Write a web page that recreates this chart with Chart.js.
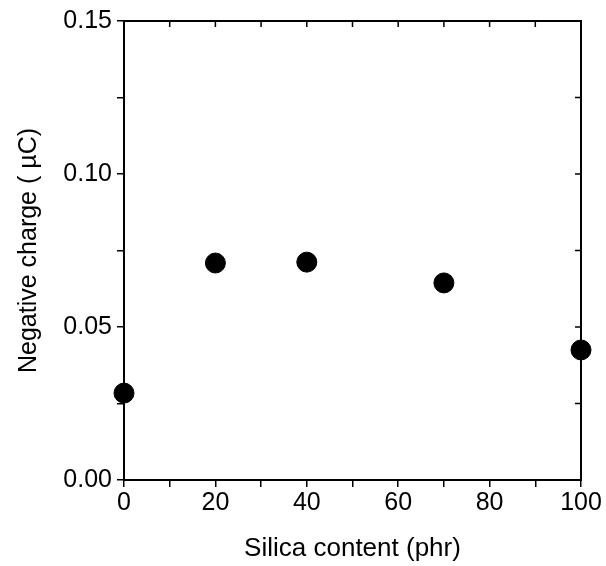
<!DOCTYPE html>
<html>
<head>
<meta charset="utf-8">
<script src="https://cdn.jsdelivr.net/npm/chart.js@4"></script>
<style>
  html, body { margin: 0; padding: 0; background: #fff; }
  #wrap { width: 606px; height: 566px; }
</style>
</head>
<body>
<div id="wrap"><canvas id="chart"></canvas></div>
<script>
// --- data ---
const silica = [0, 20, 40, 70, 100];            // phr
const charge = [0.0284, 0.0709, 0.0712, 0.0644, 0.0425]; // µC

const xTitle = "Silica content (phr)";
const yTitle = "Negative charge ( \u00B5C)";

const FONT = "'Liberation Sans', Arial, sans-serif";

// inward ticks on the top and right sides (like the original frame)
const mirrorTicks = {
    id: "mirrorTicks",
    afterDraw(chart) {
        const { ctx, chartArea: a, scales } = chart;
        ctx.save();
        ctx.strokeStyle = "#000";
        ctx.lineWidth = 1.5;
        ctx.beginPath();
        scales.x.ticks.forEach(t => {
            const px = scales.x.getPixelForValue(t.value);
            ctx.moveTo(px, a.top);
            ctx.lineTo(px, a.top + 6);
        });
        scales.y.ticks.forEach(t => {
            const py = scales.y.getPixelForValue(t.value);
            ctx.moveTo(a.right, py);
            ctx.lineTo(a.right - 6, py);
        });
        ctx.stroke();
        // frame
        ctx.lineWidth = 2;
        ctx.strokeRect(a.left, a.top, a.right - a.left, a.bottom - a.top);
        ctx.restore();
    }
};

new Chart(document.getElementById("chart"), {
    type: "scatter",
    data: {
        datasets: [{
            data: silica.map((x, i) => ({ x: x, y: charge[i] })),
            backgroundColor: "#000",
            borderColor: "#000",
            pointRadius: 10,
            pointHoverRadius: 10,
            clip: false
        }]
    },
    options: {
        responsive: true,
        maintainAspectRatio: false,
        animation: false,
        layout: { padding: { top: 21, right: 25, left: 0, bottom: 0 } },
        plugins: { legend: { display: false }, tooltip: { enabled: false } },
        scales: {
            x: {
                type: "linear",
                min: 0, max: 100,
                afterFit: s => { s.height = 86; },
                ticks: {
                    stepSize: 10,
                    autoSkip: false,
                    maxRotation: 0,
                    color: "#000",
                    padding: 1,
                    font: { family: FONT, size: 25 },
                    callback: v => (v % 20 === 0 ? v : "")
                },
                grid: { drawOnChartArea: false, drawTicks: true, tickLength: 7, color: "#000", lineWidth: 1.5 },
                border: { color: "#000", width: 2 },
                title: { display: true, text: xTitle, color: "#000", font: { family: FONT, size: 26 }, padding: { top: 10, bottom: 2 } }
            },
            y: {
                min: 0, max: 0.15,
                afterFit: s => { s.width = 124; },
                ticks: {
                    stepSize: 0.025,
                    autoSkip: false,
                    color: "#000",
                    padding: 5,
                    font: { family: FONT, size: 25 },
                    callback: v => (Math.abs(Math.round(v * 1000) % 50) === 0 ? v.toFixed(2) : "")
                },
                grid: { drawOnChartArea: false, drawTicks: true, tickLength: 7, color: "#000", lineWidth: 1.5 },
                border: { color: "#000", width: 2 },
                title: { display: true, text: yTitle, color: "#000", font: { family: FONT, size: 25 }, padding: { top: 14, bottom: 4 } }
            }
        }
    },
    plugins: [mirrorTicks]
});
</script>
</body>
</html>
